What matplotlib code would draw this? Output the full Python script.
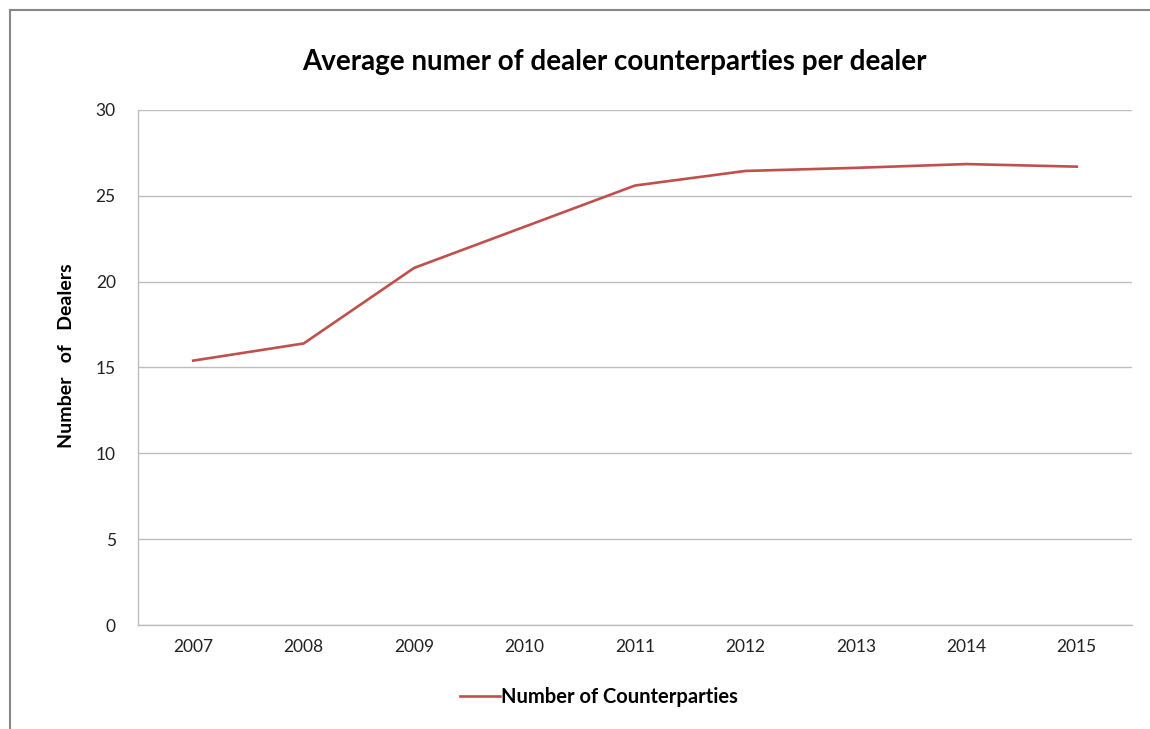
import matplotlib
matplotlib.use("Agg")
import matplotlib.pyplot as plt
from matplotlib.lines import Line2D

years = ["2007", "2008", "2009", "2010", "2011", "2012", "2013", "2014", "2015"]
counterparties = [15.4, 16.4, 20.8, 23.2, 25.6, 26.45, 26.63, 26.85, 26.7]
yticks = [0, 5, 10, 15, 20, 25, 30]

plt.rcParams['font.family'] = ['Lato', 'DejaVu Sans']

fig = plt.figure(figsize=(11.5, 7.29), dpi=100)
W, H = 1150, 729
ax = fig.add_axes([138 / W, 1 - 625 / H, (1132 - 138) / W, (625 - 110) / H])

x = list(range(len(years)))
ax.plot(x, counterparties, color="#C0504D", lw=1.9, solid_joinstyle="round",
        label="Number of Counterparties")

ax.set_xlim(-0.5, len(years) - 0.5)
ax.set_ylim(0, 30)
ax.set_yticks(yticks)
ax.set_yticklabels([str(t) for t in yticks], fontsize=12.5, color="#222222")
ax.set_xticks(x)
ax.set_xticklabels(years, fontsize=12.5, color="#222222")
ax.tick_params(axis="both", length=0, pad=10)
ax.tick_params(axis="y", pad=16)
ax.grid(axis="y", color="#BEBEBE", lw=1.0)
ax.set_axisbelow(True)
for s in ["top", "right"]:
    ax.spines[s].set_visible(False)
for s in ["left", "bottom"]:
    ax.spines[s].set_color("#BEBEBE")
    ax.spines[s].set_linewidth(1.0)

ax.set_ylabel("Number   of   Dealers", fontsize=14, fontweight="bold")
ax.yaxis.set_label_coords(-63 / 994, (625 - 356) / 515)

fig.text(614 / W, 1 - 62 / H, "Average numer of dealer counterparties per dealer",
         ha="center", va="center", fontsize=20, fontweight="bold")

leg = fig.legend(loc="center", bbox_to_anchor=(599 / W, 1 - 697 / H), frameon=False,
                 prop={"size": 14.5, "weight": "bold"}, handlelength=2.0, handletextpad=0.05)

# chart border (partially visible)
fig.add_artist(Line2D([10 / W, 1.0], [1 - 10 / H, 1 - 10 / H], color="#888888", lw=1.5))
fig.add_artist(Line2D([10 / W, 10 / W], [0, 1 - 10 / H], color="#888888", lw=1.5))

fig.savefig("out.png", dpi=100)
